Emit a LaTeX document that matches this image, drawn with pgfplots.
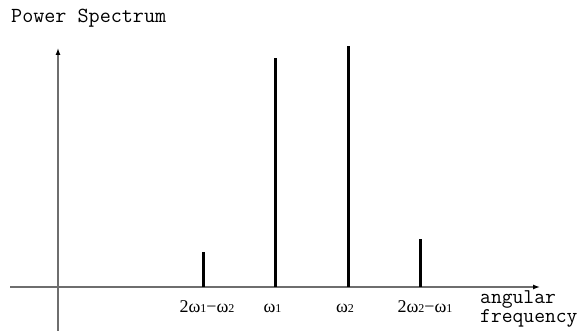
\documentclass[border=0pt]{standalone}
\usepackage{fontspec}
\setmainfont{Liberation Serif}
\usepackage{pgfplots}
\pgfplotsset{compat=1.18}
\usetikzlibrary{arrows.meta}
\newcommand{\sm}[1]{{\fontsize{12bp}{12bp}\selectfont #1}}
\definecolor{axgray}{RGB}{110,110,110}
\begin{document}
\begin{tikzpicture}
\path[use as bounding box] (0,0) rectangle (583bp,331bp);
\begin{axis}[
  at={(10bp,0bp)}, anchor=south west,
  scale only axis, width=530bp, height=283bp,
  xmin=-48, xmax=482, ymin=-44, ymax=239,
  axis lines=middle,
  axis line style={axgray, line width=1.3bp, -{Latex[length=7bp,width=5bp,color=black]}},
  xtick={149,214.5,287,367},
  xticklabels={2ω\sm{1}−ω\sm{2}, ω\sm{1}, ω\sm{2}, 2ω\sm{2}−ω\sm{1}},
  ytick=\empty,
  major tick length=0pt,
  x tick label style={font=\fontsize{18bp}{20bp}\selectfont, anchor=base, yshift=-25bp},
  clip=false,
]
\addplot[ycomb, black, line width=3bp, mark=none] coordinates {
  (145,35.3) (217,229) (290,241) (362,48)
};
\end{axis}
\node[anchor=base west, inner sep=0pt, font=\ttfamily\fontsize{21.5bp}{23bp}\selectfont] at (11bp,{331bp-23bp}) {Power Spectrum};
\node[anchor=base west, inner sep=0pt, font=\ttfamily\fontsize{21bp}{23bp}\selectfont] at (480bp,{331bp-303bp}) {angular};
\node[anchor=base west, inner sep=0pt, font=\ttfamily\fontsize{21bp}{23bp}\selectfont] at (480bp,{331bp-322bp}) {frequency};
\end{tikzpicture}
\end{document}
